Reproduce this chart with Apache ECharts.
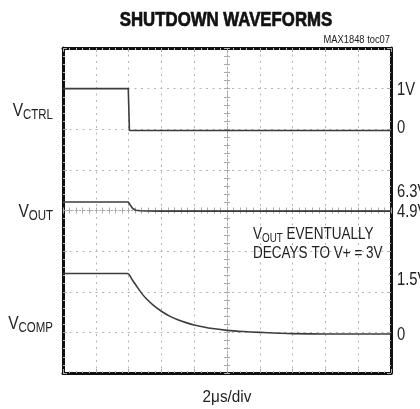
<!DOCTYPE html>
<html><head><meta charset="utf-8">
<script src="https://cdn.jsdelivr.net/npm/echarts@6/dist/echarts.min.js"></script>
<style>html,body{margin:0;padding:0;background:#fff}#c{width:420px;height:409px}</style>
</head><body><div id="c"></div>
<script>
const FONT = '"Liberation Sans",Arial,sans-serif';

// time in microseconds (2 us/div, 10 divisions)
const ctrlT = [0, 3.98, 4.05, 20];
const ctrlV = [1.0, 1.0, -0.03, -0.03];

const outT = [0, 3.98, 4.1, 4.25, 4.45, 4.7, 5.1, 6.0, 20];
const outV = [6.3, 6.3, 5.85, 5.3, 5.05, 4.97, 4.92, 4.9, 4.9];

const compT = [0, 3.92, 4.2, 4.5, 4.8, 5.1, 5.5, 6.0, 6.5, 7.0, 7.5, 8.0, 8.5, 9.0, 10.0, 11.0, 12.0, 14.0, 16.0, 20.0];
const compV = [1.45, 1.45, 1.31, 1.13, 0.96, 0.82, 0.67, 0.52, 0.40, 0.31, 0.24, 0.18, 0.14, 0.10, 0.05, 0.02, 0.0, -0.03, -0.04, -0.04];

const titleText = 'SHUTDOWN WAVEFORMS';
const noteText = 'MAX1848 toc07';
const timebaseText = '2\u03bcs/div';
const rightLabels = ['1V', '0', '6.3V', '4.9V', '1.5V', '0'];
const leftLabels = [['V', 'CTRL'], ['V', 'OUT'], ['V', 'COMP']];
const annotation = [['V', 'OUT', ' EVENTUALLY'], ['DECAYS TO V+ = 3V']];

function zip(a, b) { return a.map((v, i) => [v, b[i]]); }

const chart = echarts.init(document.getElementById('c'), null, { renderer: 'canvas' });

const frameLine = { show: true, onZero: false, lineStyle: { color: '#111', width: 3 } };
const gridDots = { show: true, lineStyle: { color: '#b4b4b4', width: 1, type: [2, 4.5] } };
const tickIn = { show: true, inside: true, length: 4, lineStyle: { color: '#aaa', width: 1 } };
const minorIn = { show: true, splitNumber: 5, length: 2, lineStyle: { color: '#bbb', width: 1 } };
const traceStyle = { color: '#3c3c3c', width: 1.6 };
const centerTick = { color: '#aaa', width: 1 };

const NARROW = 0.82;
const rich = {
  v: { fontFamily: FONT, fontSize: 19, fill: '#222', verticalAlign: 'bottom', lineHeight: 20, padding: [0, 0, 2, 0] },
  s: { fontFamily: FONT, fontSize: 14, fill: '#222', verticalAlign: 'bottom', lineHeight: 20 },
  t: { fontFamily: FONT, fontSize: 16.5, fill: '#222', verticalAlign: 'bottom', lineHeight: 20, padding: [0, 0, 2, 0] },
  u: { fontFamily: FONT, fontSize: 12, fill: '#222', verticalAlign: 'bottom', lineHeight: 20 }
};

const option = {
  animation: false,
  backgroundColor: '#fff',
  grid: { left: 63, top: 48, width: 328, height: 325 },
  xAxis: [
    { type: 'value', min: 0, max: 20, interval: 2, position: 'bottom', axisLine: frameLine,
      axisTick: tickIn, minorTick: minorIn, splitLine: gridDots, axisLabel: { show: false } },
    { type: 'value', min: 0, max: 20, interval: 2, position: 'top', axisLine: frameLine,
      axisTick: tickIn, minorTick: minorIn, splitLine: { show: false }, axisLabel: { show: false } },
    { type: 'value', min: -5, max: 5, interval: 1, position: 'bottom',
      axisLine: { show: true, onZero: true, onZeroAxisIndex: 0, lineStyle: { color: '#aaa', width: 1, type: [2, 2] } },
      axisTick: { show: true, inside: true, length: 3, lineStyle: centerTick },
      minorTick: { show: true, splitNumber: 5, length: 3, lineStyle: centerTick },
      splitLine: { show: false }, axisLabel: { show: false } },
    { type: 'value', min: -5, max: 5, interval: 1, position: 'bottom',
      axisLine: { show: false, onZero: true, onZeroAxisIndex: 0 },
      axisTick: { show: true, inside: false, length: 3, lineStyle: centerTick },
      minorTick: { show: true, splitNumber: 5, length: 3, lineStyle: centerTick },
      splitLine: { show: false }, axisLabel: { show: false } }
  ],
  yAxis: [
    { type: 'value', min: -4, max: 4, interval: 1, position: 'left', axisLine: frameLine,
      axisTick: tickIn, minorTick: minorIn, splitLine: gridDots, axisLabel: { show: false } },
    { type: 'value', min: -4, max: 4, interval: 1, position: 'right', axisLine: frameLine,
      axisTick: tickIn, minorTick: minorIn, splitLine: { show: false }, axisLabel: { show: false } },
    { type: 'value', min: -4, max: 4, interval: 1, position: 'left',
      axisLine: { show: true, onZero: true, onZeroAxisIndex: 2, lineStyle: { color: '#aaa', width: 1, type: [2, 2] } },
      axisTick: { show: true, inside: true, length: 3, lineStyle: centerTick },
      minorTick: { show: true, splitNumber: 5, length: 3, lineStyle: centerTick },
      splitLine: { show: false }, axisLabel: { show: false } },
    { type: 'value', min: -4, max: 4, interval: 1, position: 'left',
      axisLine: { show: false, onZero: true, onZeroAxisIndex: 2 },
      axisTick: { show: true, inside: false, length: 3, lineStyle: centerTick },
      minorTick: { show: true, splitNumber: 5, length: 3, lineStyle: centerTick },
      splitLine: { show: false }, axisLabel: { show: false } },
    // channel scales
    { type: 'value', min: -6, max: 2, show: false, axisLine: { onZero: false } },   // VCTRL 1V/div
    { type: 'value', min: -20, max: 30, show: false, axisLine: { onZero: false } }, // VOUT
    { type: 'value', min: -1, max: 7, show: false, axisLine: { onZero: false } }    // VCOMP 1V/div
  ],
  series: [
    { name: 'VCTRL', type: 'line', xAxisIndex: 0, yAxisIndex: 4, data: zip(ctrlT, ctrlV),
      showSymbol: false, symbol: 'none', lineStyle: traceStyle, z: 5 },
    { name: 'VOUT', type: 'line', xAxisIndex: 0, yAxisIndex: 5, data: zip(outT, outV),
      showSymbol: false, symbol: 'none', lineStyle: traceStyle, z: 5 },
    { name: 'VCOMP', type: 'line', xAxisIndex: 0, yAxisIndex: 6, data: zip(compT, compV), smooth: 0.3,
      showSymbol: false, symbol: 'none', lineStyle: traceStyle, z: 5 }
  ]
};
chart.setOption(option);

// place texts
const g = [];
g.push({ type: 'text', x: 226, y: 20, scaleX: 0.84, style: { text: titleText, fontFamily: FONT, fontWeight: 'bold', fontSize: 20,
  fill: '#111', stroke: '#111', lineWidth: 0.7, align: 'center', verticalAlign: 'middle' } });
g.push({ type: 'text', x: 390, y: 40, scaleX: 0.85, style: { text: noteText, fontFamily: FONT, fontSize: 11,
  fill: '#222', align: 'right', verticalAlign: 'middle' } });
g.push({ type: 'text', x: 227, y: 397, scaleX: 0.9, style: { text: timebaseText, fontFamily: FONT, fontSize: 17,
  fill: '#222', align: 'center', verticalAlign: 'middle' } });

const leftY = [112, 213, 325];
leftLabels.forEach((l, i) => {
  g.push({ type: 'text', x: 53, y: leftY[i], scaleX: NARROW, style: { text: '{v|' + l[0] + '}{s|' + l[1] + '}', rich: rich,
    align: 'right', verticalAlign: 'middle' } });
});

const rightY = [90, 128, 192, 212, 280, 335];
rightLabels.forEach((l, i) => {
  g.push({ type: 'text', x: 397, y: rightY[i], scaleX: NARROW, style: { text: l, fontFamily: FONT, fontSize: 18, fill: '#222',
    align: 'left', verticalAlign: 'middle' } });
});

g.push({ type: 'text', x: 253, y: 235, scaleX: NARROW, style: { text: '{t|' + annotation[0][0] + '}{u|' + annotation[0][1] + '}{t|' + annotation[0][2] + '}',
  rich: rich, align: 'left', verticalAlign: 'middle' } });
g.push({ type: 'text', x: 253, y: 253, scaleX: NARROW, style: { text: annotation[1][0], fontFamily: FONT, fontSize: 16.5, fill: '#222',
  align: 'left', verticalAlign: 'middle' } });

chart.setOption({ graphic: g });
</script>
</body></html>
